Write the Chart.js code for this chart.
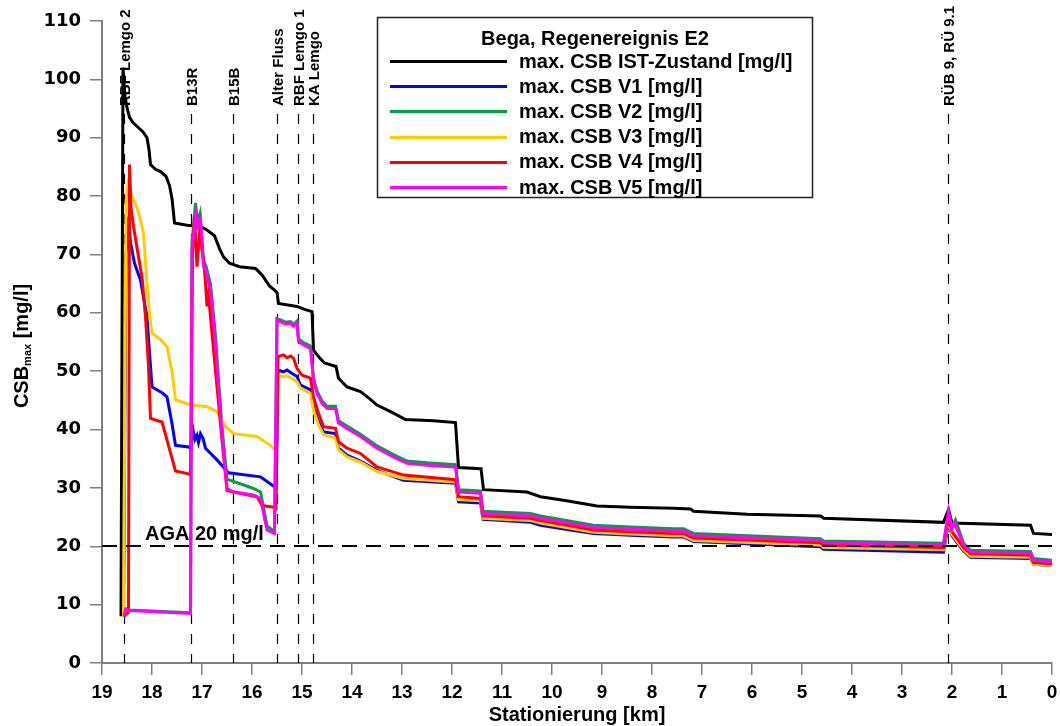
<!DOCTYPE html>
<html><head><meta charset="utf-8">
<script src="https://cdn.jsdelivr.net/npm/chart.js@4.4.0/dist/chart.umd.min.js"></script>
<style>html,body{margin:0;padding:0;background:#fff}canvas{display:block}</style>
</head><body>
<canvas id="c" width="1060" height="726"></canvas>
<script>
const FONT = "'Liberation Sans', Arial, sans-serif";
const FONT_Y = "'DejaVu Sans', 'Liberation Sans', Arial, sans-serif";

const legendTitle = 'Bega, Regenereignis E2';
const seriesNames = ['max. CSB IST-Zustand [mg/l]','max. CSB V1 [mg/l]','max. CSB V2 [mg/l]','max. CSB V3 [mg/l]','max. CSB V4 [mg/l]','max. CSB V5 [mg/l]'];
const seriesColors = ['#000000','#0000ff','#00a040','#ffcc00','#ff0000','#ff00ff'];

const xTitle = 'Stationierung [km]';
const yTitleMain = 'CSB', yTitleSub = 'max', yTitleUnit = ' [mg/l]';
const yTickValues = [0,10,20,30,40,50,60,70,80,90,100,110];
const xTickValues = [19,18,17,16,15,14,13,12,11,10,9,8,7,6,5,4,3,2,1,0];

const markerKm = [18.55, 17.22, 16.38, 15.5, 15.07, 14.78, 2.09];
const markerLabels = ['RBF Lemgo 2','B13R','B15B','Alter Fluss','RBF Lemgo 1','KA Lemgo','RÜB 9, RÜ 9.1'];
const agaValue = 20;
const agaLabel = 'AGA 20 mg/l';

// [km, mg/l]
const ist = [[18.62,8],[18.58,102],[18.54,97],[18.5,95.2],[18.45,93.5],[18.38,92.6],[18.28,91.8],[18.18,91],[18.1,90],[18.06,88],[18.03,85.4],[17.93,84.6],[17.83,84.2],[17.72,83.4],[17.65,81.8],[17.6,79.6],[17.55,75.4],[17.3,75.0],[17.03,74.8],[16.9,74.2],[16.75,73.2],[16.65,71],[16.57,69.6],[16.45,68.5],[16.25,67.9],[15.93,67.6],[15.8,66.5],[15.65,64.6],[15.55,63.9],[15.5,63.5],[15.47,61.6],[15.1,61.1],[14.95,60.6],[14.8,60.2],[14.77,53.6],[14.65,52.3],[14.55,51.4],[14.32,50.8],[14.27,48.8],[14.1,47.3],[13.83,46.5],[13.65,45.3],[13.5,44.2],[13.17,42.8],[12.93,41.7],[12.37,41.5],[11.93,41.2],[11.87,33.5],[11.42,33.3],[11.37,29.7],[10.5,29.3],[10.23,28.5],[9.77,27.9],[9.1,26.9],[8.43,26.7],[7.57,26.5],[7.23,26.4],[7.17,26.0],[6.1,25.5],[4.63,25.2],[4.57,24.8],[2.17,24.1],[2.07,26.3],[2.0,24.0],[0.43,23.6],[0.37,22.2],[0,22.0]];

const v1 = [[18.57,8],[18.52,70],[18.47,76.5],[18.43,72],[18.35,68.5],[18.23,65.6],[18.1,59.3],[18.04,52],[18.0,47.3],[17.8,46.3],[17.7,45.6],[17.6,41],[17.53,37.3],[17.27,37.0],[17.22,36.8],[17.18,40],[17.14,38.3],[17.1,39],[17.07,37.8],[17.03,39.3],[16.98,38.5],[16.93,36.8],[16.7,34.8],[16.47,32.6],[15.83,31.9],[15.6,30.5],[15.52,30.0],[15.48,50.2],[15.37,49.9],[15.3,50.2],[15.2,49.6],[15.1,49.1],[15.03,47.6],[14.83,46.8],[14.77,43.9],[14.67,41.3],[14.57,39.6],[14.33,39.3],[14.27,36.8],[14.1,35.6],[13.83,34.6],[13.5,33.0],[12.97,31.3],[11.93,30.8],[11.87,27.6],[11.43,27.4],[11.38,24.6],[10.43,24.1],[10.23,23.6],[9.63,22.8],[9.17,22.2],[8.43,21.9],[7.57,21.6],[7.37,21.6],[7.17,20.8],[4.63,19.9],[4.57,19.5],[2.17,19.0],[2.07,24.0],[2.0,21.8],[1.77,19.2],[1.63,18.1],[0.43,17.9],[0.37,16.9],[0,16.7]];

const v2 = [[18.56,8],[18.53,9.3],[18.45,9.1],[17.23,8.6],[17.2,72],[17.13,78.8],[17.09,75.5],[17.04,77],[16.97,69],[16.92,68],[16.83,65],[16.73,56],[16.67,48.5],[16.6,40.5],[16.5,31.5],[16.43,31.3],[15.97,29.9],[15.83,29.3],[15.7,23.5],[15.55,22.5],[15.5,59],[15.43,58.8],[15.33,58.4],[15.23,58.5],[15.17,58],[15.1,58.6],[15.07,55.5],[14.97,54.9],[14.83,54.3],[14.77,48.9],[14.7,46.6],[14.6,44.9],[14.5,44],[14.33,44],[14.27,41.5],[14.1,40.6],[13.83,39.2],[13.5,37.2],[13.17,35.7],[12.9,34.6],[12.5,34.3],[11.93,34.0],[11.87,29.7],[11.43,29.5],[11.38,26.0],[10.43,25.6],[10.23,25.2],[9.63,24.3],[9.17,23.6],[8.43,23.3],[7.57,23.0],[7.37,23.0],[7.17,22.2],[4.63,21.3],[4.57,20.9],[2.17,20.5],[2.07,25.5],[2.0,23.2],[1.93,24.5],[1.77,20.5],[1.63,19.3],[0.43,19.1],[0.37,17.9],[0,17.6]];

const v3 = [[18.57,8],[18.52,79],[18.48,82],[18.43,80.5],[18.37,79.4],[18.3,78],[18.23,75.9],[18.17,73.7],[18.1,65],[18.04,59],[18.0,56.5],[17.83,55.4],[17.7,54.2],[17.6,50],[17.53,45.1],[17.23,44.2],[16.9,43.9],[16.7,43.1],[16.53,40.5],[16.37,39.3],[15.9,38.8],[15.63,37.3],[15.52,36.2],[15.48,49.3],[15.37,49.0],[15.3,49.2],[15.2,48.8],[15.1,48.2],[15.03,47.1],[14.83,46.2],[14.77,43.3],[14.67,40.8],[14.57,39.1],[14.33,38.5],[14.27,36.5],[14.1,35.3],[13.83,34.4],[13.5,32.8],[12.97,31.6],[11.93,31.0],[11.87,28.0],[11.43,27.8],[11.38,24.8],[10.43,24.4],[10.23,24.0],[9.63,23.1],[9.17,22.4],[8.43,22.1],[7.57,21.8],[7.37,21.8],[7.17,21.0],[4.63,20.2],[4.57,19.8],[2.17,19.4],[2.07,24.5],[2.0,22.0],[1.77,19.4],[1.63,18.3],[0.43,18.1],[0.37,16.9],[0,16.7]];

const v4 = [[18.56,8],[18.49,8.5],[18.47,8.8],[18.45,85.4],[18.42,78],[18.37,74.8],[18.27,69.6],[18.2,66.2],[18.13,59.3],[18.07,50.8],[18.03,41.9],[17.8,41.3],[17.63,36],[17.53,32.9],[17.27,32.4],[17.23,32.2],[17.19,70],[17.15,76.5],[17.1,67.9],[17.05,73.5],[16.97,69.1],[16.93,65.1],[16.9,61.1],[16.87,63],[16.8,56.5],[16.7,47.3],[16.6,38.2],[16.5,29.6],[16.37,29.3],[15.9,28.5],[15.8,27.0],[15.57,26.7],[15.52,26.5],[15.48,52.5],[15.37,52.8],[15.3,52.3],[15.23,52.6],[15.17,52.2],[15.1,50.5],[15.0,49.3],[14.83,48.8],[14.77,45.6],[14.67,42.8],[14.57,40.5],[14.33,40.2],[14.27,37.9],[14.1,36.8],[13.83,35.9],[13.5,33.6],[12.97,32.2],[11.93,31.4],[11.87,28.5],[11.43,28.2],[11.38,25.2],[10.43,24.8],[10.23,24.4],[9.63,23.5],[9.17,22.8],[8.43,22.5],[7.57,22.2],[7.37,22.2],[7.17,21.4],[4.63,20.6],[4.57,20.2],[2.17,19.8],[2.07,25.0],[2.0,22.5],[1.77,19.8],[1.63,18.7],[0.43,18.5],[0.37,17.2],[0,17.0]];

const v5 = [[18.56,8],[18.53,9.2],[18.45,9.0],[17.23,8.5],[17.2,71],[17.12,77.1],[17.08,74.8],[17.03,76],[16.97,67.9],[16.93,67.5],[16.83,63.9],[16.73,54.8],[16.67,47.3],[16.6,39.3],[16.5,29.9],[16.37,29.3],[15.97,28.8],[15.83,28.2],[15.7,22.8],[15.55,22.2],[15.5,58.8],[15.43,58.5],[15.33,58.1],[15.23,58.2],[15.17,57.7],[15.1,58.3],[15.07,55.1],[14.97,54.5],[14.83,53.9],[14.77,48.5],[14.7,46.2],[14.6,44.5],[14.5,43.6],[14.33,43.6],[14.27,41.1],[14.1,40.2],[13.83,38.8],[13.5,36.8],[13.17,35.3],[12.9,34.2],[12.5,33.9],[11.93,33.6],[11.87,29.3],[11.43,29.1],[11.38,25.6],[10.43,25.2],[10.23,24.8],[9.63,23.9],[9.17,23.2],[8.43,22.9],[7.57,22.6],[7.37,22.6],[7.17,21.8],[4.63,21.0],[4.57,20.6],[2.17,20.2],[2.07,26.0],[2.0,23.0],[1.95,24.0],[1.77,20.2],[1.63,19.0],[0.43,18.8],[0.37,17.6],[0,17.3]];

const allSeries = [ist, v1, v2, v3, v4, v5];
const drawOrder = [5, 4, 3, 2, 1, 0]; // lower = drawn on top (magenta on top)

const datasets = allSeries.map((s, i) => ({
  label: seriesNames[i],
  data: s.map(p => ({x: p[0], y: p[1]})),
  borderColor: seriesColors[i],
  backgroundColor: seriesColors[i],
  borderWidth: 3,
  pointRadius: 0,
  tension: 0,
  fill: false,
  order: drawOrder[i]
}));

const overlay = {
  id: 'overlay',
  beforeDatasetsDraw(chart) {
    const {ctx, chartArea, scales} = chart;
    ctx.save();
    markerKm.forEach((km, i) => {
      const px = Math.round(scales.x.getPixelForValue(km)) + 0.5;
      ctx.strokeStyle = '#000';
      ctx.lineWidth = 1.2;
      ctx.setLineDash([10, 10]);
      ctx.beginPath();
      ctx.moveTo(px, 114);
      ctx.lineTo(px, chartArea.bottom);
      ctx.stroke();
      ctx.save();
      ctx.translate(px + 1, 106);
      ctx.rotate(-Math.PI / 2);
      ctx.font = 'bold 15px ' + FONT;
      ctx.fillStyle = '#000';
      ctx.textAlign = 'left';
      ctx.textBaseline = 'middle';
      ctx.fillText(markerLabels[i], 0, 0);
      ctx.restore();
    });
    ctx.restore();
  },
  afterDatasetsDraw(chart) {
    const {ctx, chartArea, scales} = chart;
    ctx.save();
    // AGA line
    const py = Math.round(scales.y.getPixelForValue(agaValue));
    ctx.strokeStyle = '#000';
    ctx.lineWidth = 2;
    ctx.setLineDash([15, 9]);
    ctx.beginPath();
    ctx.moveTo(chartArea.left, py);
    ctx.lineTo(chartArea.right, py);
    ctx.stroke();
    ctx.setLineDash([]);
    ctx.font = 'bold 20px ' + FONT;
    ctx.fillStyle = '#000';
    ctx.textAlign = 'left';
    ctx.textBaseline = 'alphabetic';
    ctx.fillText(agaLabel, 145, py - 6);

    // legend box
    ctx.fillStyle = '#fff';
    ctx.fillRect(377, 17, 436, 181);
    ctx.strokeStyle = '#222';
    ctx.lineWidth = 1.5;
    ctx.strokeRect(377.5, 17.5, 435, 180);
    ctx.fillStyle = '#000';
    ctx.font = 'bold 20px ' + FONT;
    ctx.textAlign = 'center';
    ctx.textBaseline = 'middle';
    ctx.fillText(legendTitle, 595, 39);
    ctx.textAlign = 'left';
    seriesNames.forEach((name, i) => {
      const y = 61 + i * 25.2;
      ctx.strokeStyle = seriesColors[i];
      ctx.lineWidth = 3;
      ctx.beginPath();
      ctx.moveTo(390, Math.round(y) + 0.5);
      ctx.lineTo(507, Math.round(y) + 0.5);
      ctx.stroke();
      ctx.fillStyle = '#000';
      ctx.fillText(name, 519, y + 1);
    });

    // y axis title with subscript
    ctx.save();
    ctx.translate(22, 346);
    ctx.rotate(-Math.PI / 2);
    ctx.textBaseline = 'middle';
    ctx.textAlign = 'left';
    const fMain = 'bold 20px ' + FONT, fSub = 'bold 11px ' + FONT;
    ctx.font = fMain; const w1 = ctx.measureText(yTitleMain).width; const w3 = ctx.measureText(yTitleUnit).width;
    ctx.font = fSub; const w2 = ctx.measureText(yTitleSub).width;
    let x0 = -(w1 + w2 + w3) / 2;
    ctx.font = fMain; ctx.fillText(yTitleMain, x0, 0);
    ctx.font = fSub; ctx.fillText(yTitleSub, x0 + w1, 6);
    ctx.font = fMain; ctx.fillText(yTitleUnit, x0 + w1 + w2, 0);
    ctx.restore();

    // x axis title
    ctx.font = 'bold 20px ' + FONT;
    ctx.textAlign = 'center';
    ctx.textBaseline = 'middle';
    ctx.fillText(xTitle, (chartArea.left + chartArea.right) / 2, 715);
    ctx.restore();
  }
};

new Chart(document.getElementById('c'), {
  type: 'line',
  data: { datasets },
  options: {
    responsive: false,
    animation: false,
    devicePixelRatio: 1,
    layout: { padding: { left: 0, top: 21, right: 8, bottom: 0 } },
    plugins: { legend: { display: false }, tooltip: { enabled: false } },
    scales: {
      x: {
        type: 'linear',
        reverse: true,
        min: 0, max: 19,
        afterBuildTicks(scale) { scale.ticks = xTickValues.map(v => ({value: v})); },
        afterFit(scale) { scale.height = 63; scale.paddingLeft = 0; scale.paddingRight = 0; },
        grid: { drawOnChartArea: false, drawTicks: true, tickLength: 12, color: '#808080', lineWidth: 1.5 },
        border: { display: true, color: '#808080', width: 2 },
        ticks: { color: '#000', font: { family: FONT, size: 19, weight: 'bold' }, padding: 6, maxRotation: 0, autoSkip: false }
      },
      y: {
        type: 'linear',
        min: 0, max: 110,
        afterBuildTicks(scale) { scale.ticks = yTickValues.map(v => ({value: v})); },
        afterFit(scale) { scale.width = 102; scale.paddingTop = 0; scale.paddingBottom = 0; },
        grid: { drawOnChartArea: false, drawTicks: true, tickLength: 12, color: '#808080', lineWidth: 1.5 },
        border: { display: true, color: '#808080', width: 2 },
        ticks: { color: '#000', font: { family: FONT_Y, size: 18, weight: 'bold' }, padding: 9 }
      }
    }
  },
  plugins: [overlay]
});
</script>
</body></html>
